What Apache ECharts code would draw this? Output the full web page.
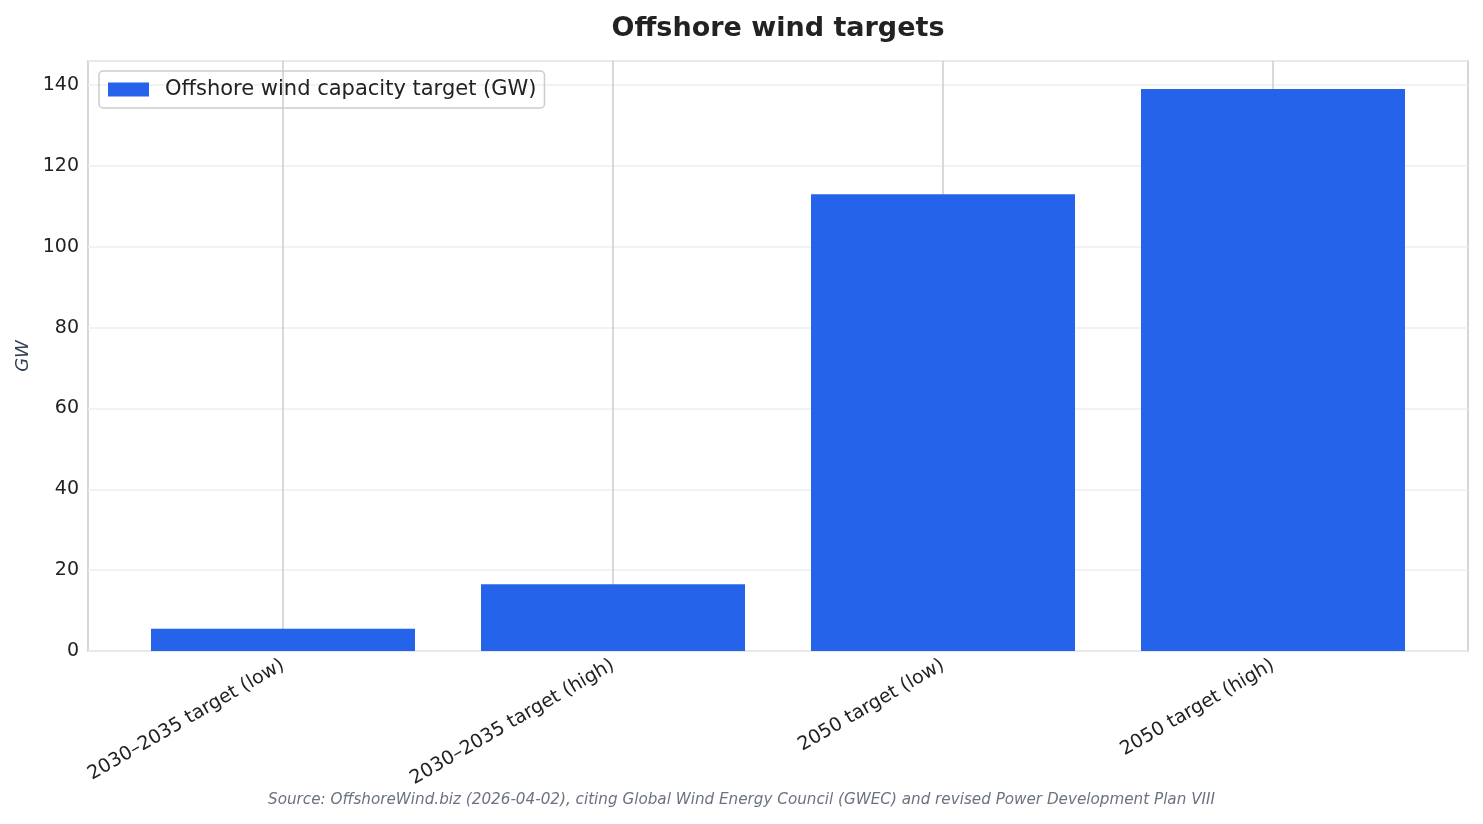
<!DOCTYPE html>
<html>
<head>
<meta charset="utf-8">
<script src="https://cdn.jsdelivr.net/npm/echarts@6/dist/echarts.min.js"></script>
<style>
  html, body { margin: 0; padding: 0; background: #fff; }
  #chart { width: 1483px; height: 824px; }
</style>
</head>
<body>
<div id="chart"></div>
<script>
// chart data
const categories = ['2030–2035 target (low)', '2030–2035 target (high)', '2050 target (low)', '2050 target (high)']
const capacityGW = [5.5, 16.5, 113, 139]
const seriesName = 'Offshore wind capacity target (GW)'
const yMax = 145.95

const FONT = 'DejaVu Sans'
const chart = echarts.init(document.getElementById('chart'))

// vertical grid line at each category centre, drawn behind the bars
const renderVLine = (params, api) => {
  const x = api.coord([api.value(0), 0])[0]
  const cs = params.coordSys
  return {
    type: 'line',
    shape: { x1: x, y1: cs.y, x2: x, y2: cs.y + cs.height },
    style: { stroke: '#cccccc', lineWidth: 1.5 },
    silent: true
  }
}

const option = {
  backgroundColor: '#ffffff',
  animation: false,
  textStyle: { fontFamily: FONT },
  title: {
    text: 'Offshore wind targets',
    left: 773,
    top: 10,
    textAlign: 'center',
    textStyle: { fontFamily: FONT, fontSize: 27, fontWeight: 'bold', color: '#222222' }
  },
  legend: {
    left: 99,
    top: 71,
    padding: [8, 8, 8, 9],
    itemWidth: 41,
    itemHeight: 14,
    itemGap: 10,
    icon: 'rect',
    borderColor: '#cccccc',
    borderWidth: 1.5,
    borderRadius: 4,
    textStyle: { fontFamily: FONT, fontSize: 21, color: '#222222', padding: [0, 0, 0, 11] },
    data: [seriesName]
  },
  grid: [
    // frame + y axis
    { left: 88, right: 15, top: 61, bottom: 173, show: true, borderColor: '#c8c8c8', borderWidth: 1.5, backgroundColor: 'transparent' },
    // categories, inset like matplotlib margins
    { left: 118, right: 45, top: 61, bottom: 173 }
  ],
  xAxis: [
    { gridIndex: 0, type: 'value', show: false, min: 0, max: 1 },
    {
      gridIndex: 1,
      type: 'category',
      data: categories,
      axisLine: { show: false },
      axisTick: { show: false },
      splitLine: { show: false },
      axisLabel: {
        rotate: 30,
        margin: 13,
        fontFamily: FONT,
        fontSize: 19,
        color: '#222222',
        interval: 0
      }
    }
  ],
  yAxis: [
    {
      gridIndex: 0,
      type: 'value',
      min: 0,
      max: yMax,
      interval: 20,
      name: 'GW',
      nameLocation: 'middle',
      nameGap: 56,
      nameTextStyle: { fontFamily: FONT, fontSize: 18, fontStyle: 'italic', color: '#334155' },
      axisLine: { show: false },
      axisTick: { show: false },
      axisLabel: { fontFamily: FONT, fontSize: 19, color: '#222222', margin: 9, showMaxLabel: false },
      splitLine: { lineStyle: { color: '#eeeeee', width: 1.5 } }
    },
    { gridIndex: 1, type: 'value', show: false, min: 0, max: yMax }
  ],
  series: [
    {
      type: 'custom',
      xAxisIndex: 1,
      yAxisIndex: 1,
      silent: true,
      z: 1,
      renderItem: renderVLine,
      encode: { x: 0 },
      data: categories.map((c, i) => [i])
    },
    {
      name: seriesName,
      type: 'bar',
      xAxisIndex: 1,
      yAxisIndex: 1,
      data: capacityGW,
      barWidth: '80%',
      z: 3,
      itemStyle: { color: '#2563eb' }
    }
  ],
  graphic: [
    {
      type: 'text',
      left: 'center',
      top: 793,
      style: {
        text: 'Source: OffshoreWind.biz (2026-04-02), citing Global Wind Energy Council (GWEC) and revised Power Development Plan VIII',
        font: 'italic 15.2px "DejaVu Sans"',
        fill: '#6b7280'
      }
    }
  ]
}

chart.setOption(option)
</script>
</body>
</html>
